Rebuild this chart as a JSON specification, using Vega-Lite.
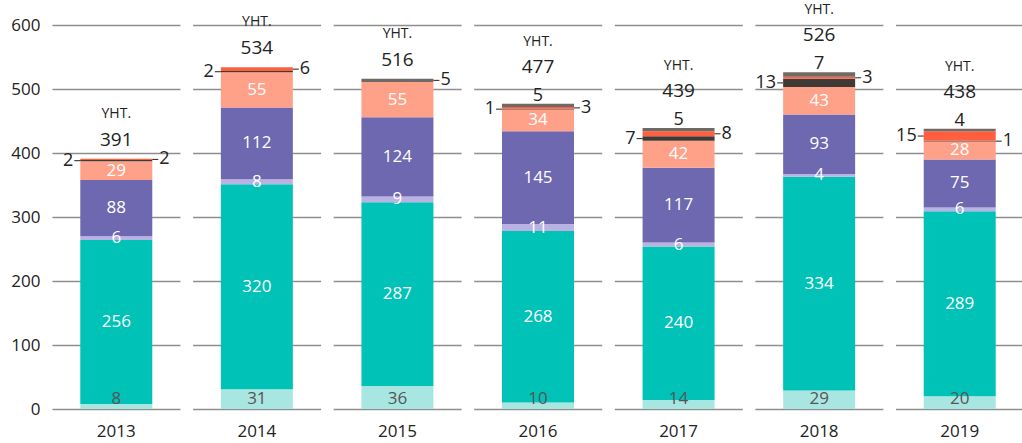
{
  "$schema": "https://vega.github.io/schema/vega-lite/v6.json",
  "width": 976,
  "height": 384,
  "autosize": {"type": "none"},
  "padding": {"left": 46, "top": 25, "right": 0, "bottom": 34},
  "background": "white",
  "config": {"view": {"stroke": null}, "font": "Open Sans", "text": {"font": "Open Sans"}},
  "datasets": {
    "main": [
      {"year": "2013", "series": "a", "value": 8},
      {"year": "2013", "series": "b", "value": 256},
      {"year": "2013", "series": "c", "value": 6},
      {"year": "2013", "series": "d", "value": 88},
      {"year": "2013", "series": "e", "value": 29},
      {"year": "2013", "series": "f", "value": 2},
      {"year": "2013", "series": "g", "value": 2},
      {"year": "2014", "series": "a", "value": 31},
      {"year": "2014", "series": "b", "value": 320},
      {"year": "2014", "series": "c", "value": 8},
      {"year": "2014", "series": "d", "value": 112},
      {"year": "2014", "series": "e", "value": 55},
      {"year": "2014", "series": "f", "value": 2},
      {"year": "2014", "series": "g", "value": 6},
      {"year": "2015", "series": "a", "value": 36},
      {"year": "2015", "series": "b", "value": 287},
      {"year": "2015", "series": "c", "value": 9},
      {"year": "2015", "series": "d", "value": 124},
      {"year": "2015", "series": "e", "value": 55},
      {"year": "2015", "series": "h", "value": 5},
      {"year": "2016", "series": "a", "value": 10},
      {"year": "2016", "series": "b", "value": 268},
      {"year": "2016", "series": "c", "value": 11},
      {"year": "2016", "series": "d", "value": 145},
      {"year": "2016", "series": "e", "value": 34},
      {"year": "2016", "series": "f", "value": 1},
      {"year": "2016", "series": "g", "value": 3},
      {"year": "2016", "series": "h", "value": 5},
      {"year": "2017", "series": "a", "value": 14},
      {"year": "2017", "series": "b", "value": 240},
      {"year": "2017", "series": "c", "value": 6},
      {"year": "2017", "series": "d", "value": 117},
      {"year": "2017", "series": "e", "value": 42},
      {"year": "2017", "series": "f", "value": 7},
      {"year": "2017", "series": "g", "value": 8},
      {"year": "2017", "series": "h", "value": 5},
      {"year": "2018", "series": "a", "value": 29},
      {"year": "2018", "series": "b", "value": 334},
      {"year": "2018", "series": "c", "value": 4},
      {"year": "2018", "series": "d", "value": 93},
      {"year": "2018", "series": "e", "value": 43},
      {"year": "2018", "series": "f", "value": 13},
      {"year": "2018", "series": "g", "value": 3},
      {"year": "2018", "series": "h", "value": 7},
      {"year": "2019", "series": "a", "value": 20},
      {"year": "2019", "series": "b", "value": 289},
      {"year": "2019", "series": "c", "value": 6},
      {"year": "2019", "series": "d", "value": 75},
      {"year": "2019", "series": "e", "value": 28},
      {"year": "2019", "series": "f", "value": 1},
      {"year": "2019", "series": "g", "value": 15},
      {"year": "2019", "series": "h", "value": 4}
    ]
  },
  "data": {"name": "main"},
  "transform": [
    {"stack": "value", "groupby": ["year"], "sort": [{"field": "series", "order": "ascending"}], "as": ["y0", "y1"]},
    {"calculate": "(datum.y0 + datum.y1) / 2", "as": "mid"},
    {"joinaggregate": [{"op": "sum", "field": "value", "as": "total"}], "groupby": ["year"]}
  ],
  "encoding": {
    "x": {
      "field": "year",
      "type": "ordinal",
      "scale": {"range": [0, 984], "paddingInner": 0.09, "paddingOuter": 0.045},
      "axis": {
        "title": null,
        "domain": false,
        "ticks": false,
        "tickSize": 0,
        "labelPadding": 14,
        "labelFontSize": 17,
        "labelColor": "#222222",
        "labelFont": "Open Sans",
        "labelAngle": 0,
        "grid": false
      }
    }
  },
  "layer": [
    {
      "mark": {"type": "bar", "width": 72},
      "encoding": {
        "y": {
          "field": "y0",
          "type": "quantitative",
          "title": null,
          "scale": {"domain": [0, 600], "nice": false},
          "axis": {
            "title": null,
            "values": [0, 100, 200, 300, 400, 500, 600],
            "domain": false,
            "ticks": false,
            "tickSize": 0,
            "labelPadding": 6,
            "labelFontSize": 17,
            "labelColor": "#222222",
            "labelFont": "Open Sans",
            "grid": true,
            "gridColor": "#8e8e8e",
            "gridWidth": 1.5,
            "gridDash": [128, 12.571],
            "gridDashOffset": 134.571
          }
        },
        "y2": {"field": "y1"},
        "color": {
          "field": "series",
          "type": "nominal",
          "scale": {
            "domain": ["a", "b", "c", "d", "e", "f", "g", "h"],
            "range": ["#a8e6e1", "#00c2b6", "#b9b2e2", "#6e68b1", "#ffa189", "#403a36", "#ff5f3f", "#6f6a66"]
          },
          "legend": null
        }
      }
    },
    {
      "transform": [{"filter": "indexof(['b','c','d','e'], datum.series) >= 0"}],
      "mark": {"type": "text", "color": "white", "fontSize": 17, "baseline": "middle"},
      "encoding": {
        "y": {"field": "mid", "type": "quantitative", "title": null},
        "text": {"field": "value", "type": "quantitative"}
      }
    },
    {
      "transform": [{"filter": "datum.series == 'a'"}],
      "mark": {"type": "text", "color": "#555555", "fontSize": 17, "baseline": "middle"},
      "encoding": {
        "y": {"datum": 16, "type": "quantitative", "title": null},
        "text": {"field": "value", "type": "quantitative"}
      }
    },
    {
      "transform": [{"filter": "(datum.series == 'f' && datum.year != '2019') || (datum.series == 'g' && datum.year == '2019')"}],
      "mark": {"type": "tick", "xOffset": -39, "size": 6, "thickness": 1, "color": "#222222", "opacity": 1},
      "encoding": {"y": {"field": "mid", "type": "quantitative", "title": null}}
    },
    {
      "transform": [{"filter": "(datum.series == 'f' && datum.year != '2019') || (datum.series == 'g' && datum.year == '2019')"}],
      "mark": {"type": "text", "align": "right", "dx": -43, "fontSize": 18, "color": "#222222", "baseline": "middle"},
      "encoding": {
        "y": {"field": "mid", "type": "quantitative", "title": null},
        "text": {"field": "value", "type": "quantitative"}
      }
    },
    {
      "transform": [{"filter": "(datum.series == 'g' && datum.year != '2019') || (datum.series == 'h' && datum.year == '2015') || (datum.series == 'f' && datum.year == '2019')"}],
      "mark": {"type": "tick", "xOffset": 39, "size": 6, "thickness": 1, "color": "#222222", "opacity": 1},
      "encoding": {"y": {"field": "mid", "type": "quantitative", "title": null}}
    },
    {
      "transform": [{"filter": "(datum.series == 'g' && datum.year != '2019') || (datum.series == 'h' && datum.year == '2015') || (datum.series == 'f' && datum.year == '2019')"}],
      "mark": {"type": "text", "align": "left", "dx": 43, "fontSize": 18, "color": "#222222", "baseline": "middle"},
      "encoding": {
        "y": {"field": "mid", "type": "quantitative", "title": null},
        "text": {"field": "value", "type": "quantitative"}
      }
    },
    {
      "transform": [{"filter": "datum.series == 'h' && datum.year != '2015'"}],
      "mark": {"type": "text", "dy": -8, "fontSize": 18, "color": "#222222", "baseline": "middle"},
      "encoding": {
        "y": {"field": "y1", "type": "quantitative", "title": null},
        "text": {"field": "value", "type": "quantitative"}
      }
    },
    {
      "transform": [{"filter": "datum.series == 'a' && indexof(['2013','2014','2015'], datum.year) >= 0"}],
      "mark": {"type": "text", "dy": -19, "fontSize": 19, "color": "#222222", "baseline": "middle"},
      "encoding": {
        "y": {"field": "total", "type": "quantitative", "title": null},
        "text": {"field": "total", "type": "quantitative"}
      }
    },
    {
      "transform": [{"filter": "datum.series == 'a' && indexof(['2013','2014','2015'], datum.year) >= 0"}],
      "mark": {"type": "text", "dy": -45, "fontSize": 14, "color": "#222222", "baseline": "middle", "text": "YHT."},
      "encoding": {
        "y": {"field": "total", "type": "quantitative", "title": null}
      }
    },
    {
      "transform": [{"filter": "datum.series == 'a' && indexof(['2016','2017','2018','2019'], datum.year) >= 0"}],
      "mark": {"type": "text", "dy": -37, "fontSize": 19, "color": "#222222", "baseline": "middle"},
      "encoding": {
        "y": {"field": "total", "type": "quantitative", "title": null},
        "text": {"field": "total", "type": "quantitative"}
      }
    },
    {
      "transform": [{"filter": "datum.series == 'a' && indexof(['2016','2017','2018','2019'], datum.year) >= 0"}],
      "mark": {"type": "text", "dy": -62, "fontSize": 14, "color": "#222222", "baseline": "middle", "text": "YHT."},
      "encoding": {
        "y": {"field": "total", "type": "quantitative", "title": null}
      }
    }
  ]
}
